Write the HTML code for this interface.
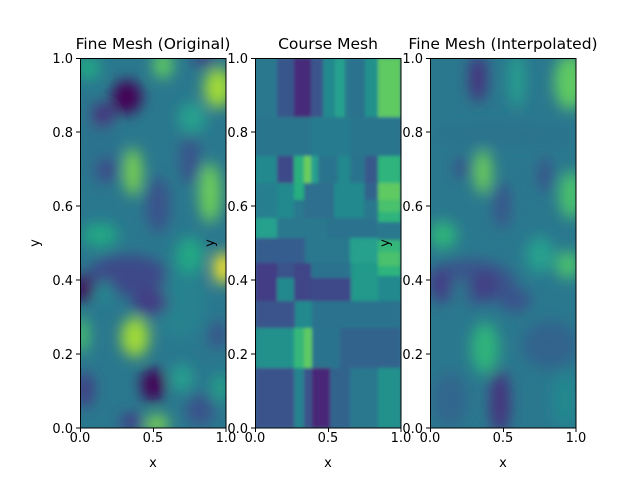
<!DOCTYPE html>
<html><head><meta charset="utf-8"><style>
body{margin:0;background:#fff}
svg{display:block;font-family:"DejaVu Sans","Liberation Sans",sans-serif}
</style></head><body>
<svg width="640" height="480" viewBox="0 0 640 480">
<defs>
<filter id="b1" x="-20%" y="-20%" width="140%" height="140%"><feGaussianBlur stdDeviation="7"/></filter>
<filter id="b3" x="-20%" y="-20%" width="140%" height="140%"><feGaussianBlur stdDeviation="7"/></filter>
<filter id="b2"><feGaussianBlur stdDeviation="1.5"/></filter>
<clipPath id="c1"><rect x="80" y="58" width="146" height="370"/></clipPath>
<clipPath id="c2"><rect x="255" y="58" width="146" height="370"/></clipPath>
<clipPath id="c3"><rect x="430" y="58" width="146" height="370"/></clipPath>
</defs>

<!-- Panel 1 -->
<g clip-path="url(#c1)">
<rect x="80" y="58" width="146" height="370" fill="#2a788e"/>
<g filter="url(#b1)">
<ellipse cx="100" cy="150" rx="18" ry="40" fill="#2c728e"/>
<ellipse cx="180" cy="300" rx="25" ry="40" fill="#26828e"/>
<ellipse cx="127" cy="97" rx="15" ry="17" fill="#440154"/>
<ellipse cx="103" cy="115" rx="12" ry="12" fill="#46327e"/>
<ellipse cx="163" cy="65" rx="10" ry="14" fill="#5ec962"/>
<ellipse cx="218" cy="88" rx="14" ry="20" fill="#a0da39"/>
<ellipse cx="192" cy="118" rx="14" ry="16" fill="#25a18e"/>
<ellipse cx="205" cy="60" rx="12" ry="6" fill="#46327e"/>
<ellipse cx="88" cy="68" rx="12" ry="12" fill="#22a884"/>
<ellipse cx="133" cy="172" rx="9" ry="24" fill="#7ad151"/>
<ellipse cx="107" cy="170" rx="11" ry="12" fill="#3e4a89"/>
<ellipse cx="158" cy="205" rx="12" ry="28" fill="#3b528b"/>
<ellipse cx="210" cy="193" rx="11" ry="30" fill="#6ccd5a"/>
<ellipse cx="190" cy="160" rx="10" ry="25" fill="#3b528b"/>
<ellipse cx="100" cy="235" rx="18" ry="12" fill="#22a884"/>
<ellipse cx="190" cy="255" rx="14" ry="18" fill="#22a884"/>
<ellipse cx="223" cy="268" rx="9" ry="16" fill="#fde725"/>
<ellipse cx="83" cy="288" rx="9" ry="14" fill="#440154"/>
<ellipse cx="128" cy="275" rx="40" ry="20" fill="#3e4a89"/>
<ellipse cx="150" cy="302" rx="18" ry="14" fill="#433e85"/>
<ellipse cx="105" cy="292" rx="8" ry="12" fill="#23898e"/>
<ellipse cx="82" cy="335" rx="7" ry="18" fill="#4ac16d"/>
<ellipse cx="135" cy="337" rx="14" ry="20" fill="#a0da39"/>
<ellipse cx="218" cy="335" rx="9" ry="14" fill="#3b528b"/>
<ellipse cx="85" cy="390" rx="9" ry="18" fill="#433e85"/>
<ellipse cx="153" cy="385" rx="12" ry="17" fill="#440154"/>
<ellipse cx="182" cy="378" rx="11" ry="14" fill="#25a18e"/>
<ellipse cx="132" cy="422" rx="12" ry="9" fill="#433e85"/>
<ellipse cx="157" cy="424" rx="12" ry="9" fill="#7ad151"/>
<ellipse cx="200" cy="410" rx="14" ry="16" fill="#3b528b"/>
<ellipse cx="220" cy="388" rx="7" ry="14" fill="#22a884"/>
</g>
</g>

<!-- Panel 2 -->
<g clip-path="url(#c2)">
<rect x="255" y="58" width="146" height="370" fill="#2a788e"/>
<g filter="url(#b2)">
<rect x="255" y="58" width="23" height="59" fill="#2a788e"/>
<rect x="277" y="58" width="17" height="59" fill="#39568c"/>
<rect x="294" y="58" width="17" height="59" fill="#472c7a"/>
<rect x="311" y="58" width="12" height="59" fill="#3a548c"/>
<rect x="323" y="58" width="12" height="59" fill="#23898e"/>
<rect x="335" y="58" width="10" height="59" fill="#25a18e"/>
<rect x="350" y="58" width="15" height="59" fill="#2c728e"/>
<rect x="365" y="58" width="13" height="59" fill="#21918c"/>
<rect x="378" y="58" width="23" height="59" fill="#5ec962"/>
<rect x="255" y="117" width="146" height="39" fill="#2b758e"/>
<rect x="311" y="117" width="40" height="39" fill="#287c8e"/>
<rect x="255" y="156" width="22" height="27" fill="#23898e"/>
<rect x="277" y="156" width="17" height="27" fill="#3e4a89"/>
<rect x="294" y="156" width="10" height="27" fill="#2ab07f"/>
<rect x="304" y="156" width="7" height="27" fill="#6ccd5a"/>
<rect x="311" y="156" width="7" height="27" fill="#25a18e"/>
<rect x="318" y="156" width="47" height="27" fill="#2c738e"/>
<rect x="338" y="156" width="12" height="27" fill="#23898e"/>
<rect x="365" y="156" width="13" height="27" fill="#38598c"/>
<rect x="378" y="156" width="23" height="27" fill="#2fb47c"/>
<rect x="255" y="183" width="22" height="35" fill="#277f8e"/>
<rect x="277" y="183" width="17" height="35" fill="#23898e"/>
<rect x="294" y="183" width="10" height="17" fill="#28ae80"/>
<rect x="304" y="183" width="30" height="35" fill="#2e6e8e"/>
<rect x="334" y="183" width="30" height="35" fill="#23898e"/>
<rect x="365" y="183" width="13" height="17" fill="#33638d"/>
<rect x="378" y="183" width="23" height="17" fill="#5ec962"/>
<rect x="378" y="200" width="23" height="12" fill="#4ac16d"/>
<rect x="378" y="212" width="23" height="10" fill="#2fb47c"/>
<rect x="255" y="218" width="22" height="20" fill="#25a18e"/>
<rect x="277" y="218" width="50" height="20" fill="#2a788e"/>
<rect x="327" y="218" width="50" height="20" fill="#2c728e"/>
<rect x="378" y="222" width="23" height="18" fill="#2a788e"/>
<rect x="255" y="238" width="50" height="25" fill="#365d8d"/>
<rect x="305" y="238" width="45" height="25" fill="#2a788e"/>
<rect x="350" y="238" width="28" height="25" fill="#25a18e"/>
<rect x="378" y="240" width="23" height="12" fill="#35b779"/>
<rect x="378" y="252" width="23" height="14" fill="#4ac16d"/>
<rect x="255" y="263" width="22" height="38" fill="#433e85"/>
<rect x="277" y="263" width="17" height="15" fill="#3b528b"/>
<rect x="277" y="278" width="17" height="23" fill="#23898e"/>
<rect x="294" y="263" width="17" height="38" fill="#414487"/>
<rect x="311" y="278" width="40" height="23" fill="#3e4a89"/>
<rect x="311" y="263" width="40" height="15" fill="#2c728e"/>
<rect x="351" y="263" width="27" height="38" fill="#23998a"/>
<rect x="378" y="266" width="23" height="10" fill="#2fb47c"/>
<rect x="378" y="276" width="23" height="25" fill="#23898e"/>
<rect x="255" y="301" width="40" height="27" fill="#3a548c"/>
<rect x="295" y="301" width="17" height="27" fill="#23898e"/>
<rect x="312" y="301" width="89" height="27" fill="#2c728e"/>
<rect x="255" y="328" width="39" height="40" fill="#21918c"/>
<rect x="294" y="328" width="10" height="40" fill="#35b779"/>
<rect x="304" y="328" width="8" height="40" fill="#5ec962"/>
<rect x="312" y="328" width="28" height="40" fill="#2c738e"/>
<rect x="340" y="328" width="61" height="40" fill="#33638d"/>
<rect x="255" y="368" width="39" height="60" fill="#3b528b"/>
<rect x="294" y="368" width="10" height="60" fill="#26828e"/>
<rect x="304" y="368" width="8" height="60" fill="#3b528b"/>
<rect x="312" y="368" width="18" height="60" fill="#482878"/>
<rect x="330" y="368" width="20" height="60" fill="#33638d"/>
<rect x="350" y="368" width="28" height="60" fill="#2a788e"/>
<rect x="378" y="368" width="23" height="60" fill="#21918c"/>
</g>
</g>

<!-- Panel 3 -->
<g clip-path="url(#c3)">
<rect x="430" y="58" width="146" height="370" fill="#2a788e"/>
<g filter="url(#b3)">
<ellipse cx="478" cy="78" rx="9" ry="24" fill="#46327e"/>
<ellipse cx="517" cy="80" rx="8" ry="28" fill="#25a18e"/>
<ellipse cx="570" cy="82" rx="16" ry="28" fill="#5ec962"/>
<ellipse cx="505" cy="135" rx="70" ry="10" fill="#2c728e"/>
<ellipse cx="483" cy="172" rx="9" ry="22" fill="#6ccd5a"/>
<ellipse cx="462" cy="168" rx="7" ry="10" fill="#3e4a89"/>
<ellipse cx="502" cy="205" rx="8" ry="24" fill="#3b528b"/>
<ellipse cx="545" cy="175" rx="7" ry="18" fill="#3b528b"/>
<ellipse cx="571" cy="195" rx="12" ry="24" fill="#4ac16d"/>
<ellipse cx="443" cy="235" rx="14" ry="14" fill="#2fb47c"/>
<ellipse cx="568" cy="265" rx="12" ry="14" fill="#4ac16d"/>
<ellipse cx="540" cy="255" rx="14" ry="18" fill="#25a18e"/>
<ellipse cx="470" cy="282" rx="45" ry="22" fill="#3b528b"/>
<ellipse cx="440" cy="285" rx="10" ry="18" fill="#433e85"/>
<ellipse cx="485" cy="285" rx="12" ry="14" fill="#433e85"/>
<ellipse cx="460" cy="292" rx="7" ry="14" fill="#287c8e"/>
<ellipse cx="515" cy="300" rx="16" ry="12" fill="#3b528b"/>
<ellipse cx="485" cy="348" rx="14" ry="26" fill="#2fb47c"/>
<ellipse cx="550" cy="345" rx="28" ry="24" fill="#33638d"/>
<ellipse cx="500" cy="402" rx="10" ry="32" fill="#46327e"/>
<ellipse cx="450" cy="400" rx="18" ry="28" fill="#32668e"/>
<ellipse cx="565" cy="400" rx="12" ry="28" fill="#23898e"/>
</g>
</g>

<g fill="none" stroke="#000" stroke-width="1">
<rect x="80.5" y="58.5" width="145.5" height="369.5"/>
<rect x="255.5" y="58.5" width="145.5" height="369.5"/>
<rect x="430.5" y="58.5" width="145.5" height="369.5"/>
<path d="M80.5 428v4M153.5 428v4M226 428v4M255.5 428v4M328.5 428v4M401 428v4M430.5 428v4M503.5 428v4M576 428v4"/>
<path d="M80 428h-4M80 354h-4M80 280h-4M80 206h-4M80 132h-4M80 58.5h-4"/>
<path d="M255 428h-4M255 354h-4M255 280h-4M255 206h-4M255 132h-4M255 58.5h-4"/>
<path d="M430 428h-4M430 354h-4M430 280h-4M430 206h-4M430 132h-4M430 58.5h-4"/>
</g>

<g font-size="15.5" fill="#000">
<text x="153" y="49" text-anchor="middle">Fine Mesh (Original)</text>
<text x="328" y="49" text-anchor="middle">Course Mesh</text>
<text x="503" y="49" text-anchor="middle">Fine Mesh (Interpolated)</text>
</g>
<g font-size="13" fill="#000" text-anchor="middle">
<text x="80" y="442">0.0</text><text x="153" y="442">0.5</text><text x="226" y="442">1.0</text>
<text x="255" y="442">0.0</text><text x="328" y="442">0.5</text><text x="401" y="442">1.0</text>
<text x="430" y="442">0.0</text><text x="503" y="442">0.5</text><text x="576" y="442">1.0</text>
<text x="153" y="467">x</text><text x="328" y="467">x</text><text x="503" y="467">x</text>
</g>
<g font-size="13" fill="#000" text-anchor="end">
<text x="73" y="433">0.0</text><text x="73" y="359">0.2</text><text x="73" y="285">0.4</text><text x="73" y="211">0.6</text><text x="73" y="137">0.8</text><text x="73" y="63">1.0</text>
<text x="248" y="433">0.0</text><text x="248" y="359">0.2</text><text x="248" y="285">0.4</text><text x="248" y="211">0.6</text><text x="248" y="137">0.8</text><text x="248" y="63">1.0</text>
<text x="423" y="433">0.0</text><text x="423" y="359">0.2</text><text x="423" y="285">0.4</text><text x="423" y="211">0.6</text><text x="423" y="137">0.8</text><text x="423" y="63">1.0</text>
</g>
<g font-size="13" fill="#000" text-anchor="middle">
<text transform="translate(39,243) rotate(-90)">y</text>
<text transform="translate(214,243) rotate(-90)">y</text>
<text transform="translate(389,243) rotate(-90)">y</text>
</g>
</svg>
</body></html>
